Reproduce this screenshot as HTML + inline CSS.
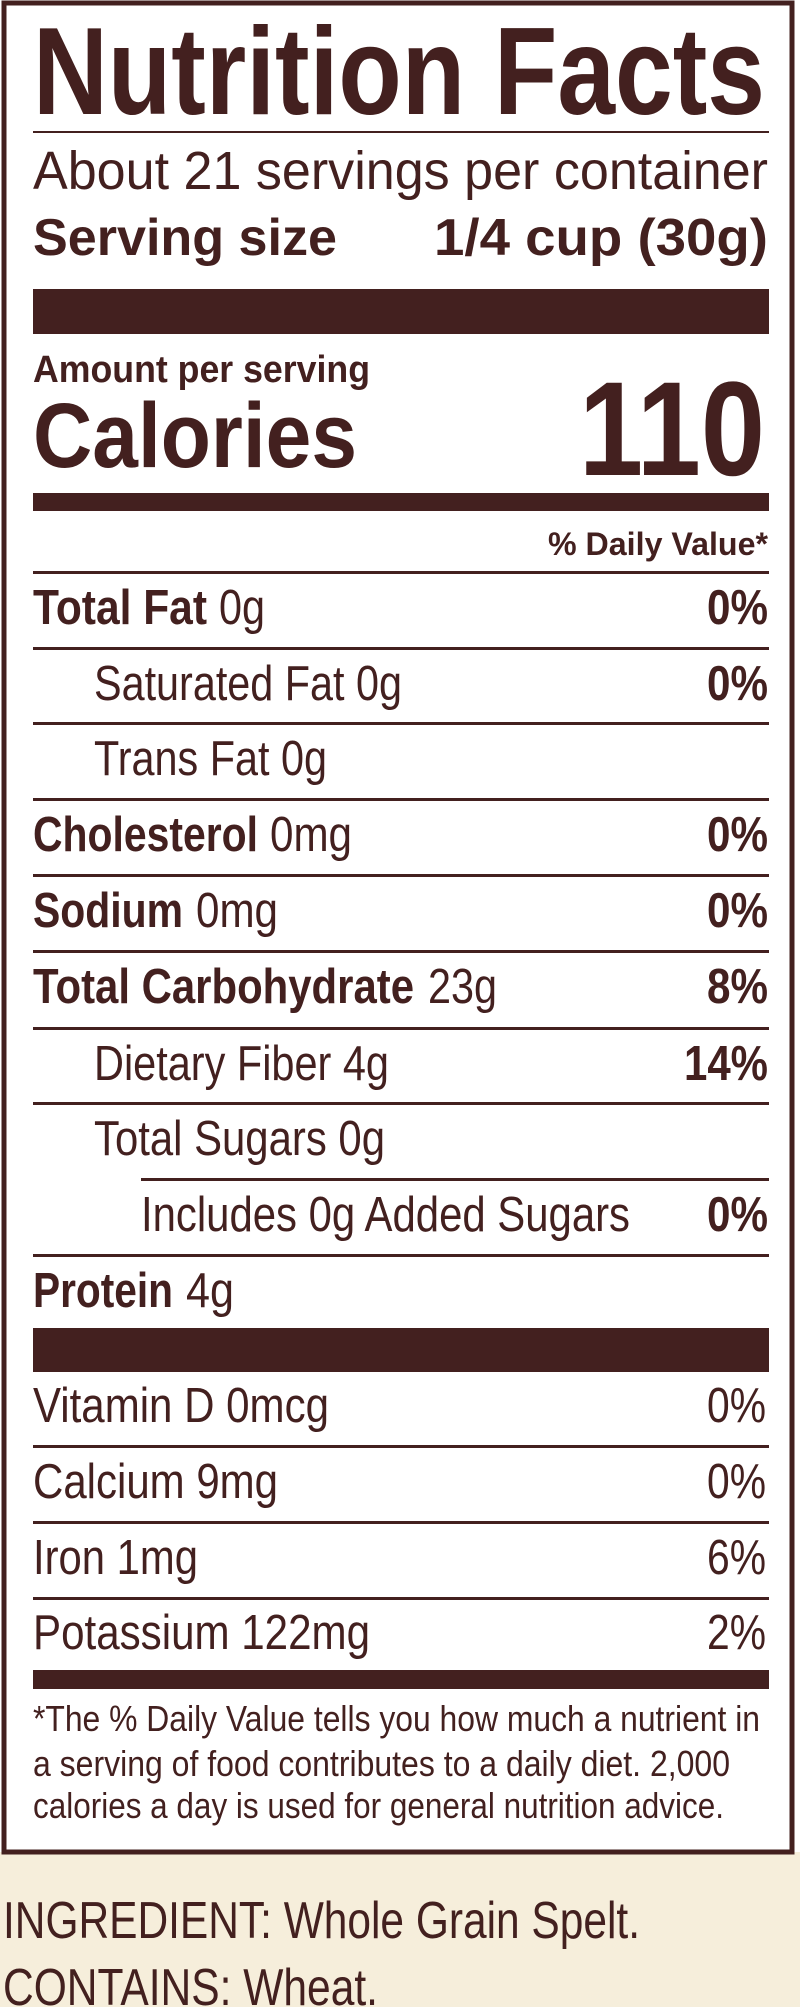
<!DOCTYPE html>
<html><head><meta charset="utf-8"><style>
html,body{margin:0;padding:0;background:#fff;}
svg{display:block}
text{font-family:"Liberation Sans",sans-serif;fill:#43201f;}
.b{font-weight:bold}
</style></head><body>
<svg width="800" height="2007" viewBox="0 0 800 2007" xmlns="http://www.w3.org/2000/svg">
<rect x="0" y="1852" width="800" height="155" fill="#f6eedb"/>
<rect x="4" y="3" width="788" height="1849" fill="#fff" stroke="#43201f" stroke-width="5"/>
<g fill="#43201f">
<rect x="33" y="131" width="736" height="2"/>
<rect x="33" y="289" width="736" height="45"/>
<rect x="33" y="493" width="736" height="18"/>
<rect x="33" y="571" width="736" height="3"/>
<rect x="33" y="647" width="736" height="3"/>
<rect x="33" y="722" width="736" height="3"/>
<rect x="33" y="798" width="736" height="3"/>
<rect x="33" y="874" width="736" height="3"/>
<rect x="33" y="950" width="736" height="3"/>
<rect x="33" y="1027" width="736" height="3"/>
<rect x="33" y="1102" width="736" height="3"/>
<rect x="141" y="1178" width="628" height="3"/>
<rect x="33" y="1254" width="736" height="3"/>
<rect x="33" y="1328" width="736" height="44"/>
<rect x="33" y="1445" width="736" height="3"/>
<rect x="33" y="1521" width="736" height="3"/>
<rect x="33" y="1597" width="736" height="3"/>
<rect x="33" y="1670" width="736" height="19"/>
</g>
<text class="b" x="33" y="114" font-size="124" textLength="732" lengthAdjust="spacingAndGlyphs">Nutrition Facts</text>
<text x="33" y="189" font-size="54" textLength="735" lengthAdjust="spacingAndGlyphs">About 21 servings per container</text>
<text class="b" x="33" y="255" font-size="52" textLength="304" lengthAdjust="spacingAndGlyphs">Serving size</text>
<text class="b" x="434" y="255" font-size="52" textLength="334" lengthAdjust="spacingAndGlyphs">1/4 cup (30g)</text>
<text class="b" x="33" y="382" font-size="38" textLength="337" lengthAdjust="spacingAndGlyphs">Amount per serving</text>
<text class="b" x="33" y="467" font-size="92" textLength="324" lengthAdjust="spacingAndGlyphs">Calories</text>
<text class="b" x="579" y="475" font-size="134" textLength="186" lengthAdjust="spacingAndGlyphs">110</text>
<text class="b" x="548" y="555" font-size="32" textLength="220" lengthAdjust="spacingAndGlyphs">% Daily Value*</text>

<text class="b" x="33" y="624" font-size="49" textLength="174" lengthAdjust="spacingAndGlyphs">Total Fat</text>
<text x="219" y="624" font-size="49" textLength="46" lengthAdjust="spacingAndGlyphs">0g</text>
<text class="b" x="707" y="624" font-size="49" textLength="61" lengthAdjust="spacingAndGlyphs">0%</text>

<text x="94" y="700" font-size="49" textLength="308" lengthAdjust="spacingAndGlyphs">Saturated Fat 0g</text>
<text class="b" x="707" y="700" font-size="49" textLength="61" lengthAdjust="spacingAndGlyphs">0%</text>

<text x="94" y="775" font-size="49" textLength="233" lengthAdjust="spacingAndGlyphs">Trans Fat 0g</text>

<text class="b" x="33" y="851" font-size="49" textLength="225" lengthAdjust="spacingAndGlyphs">Cholesterol</text>
<text x="270" y="851" font-size="49" textLength="82" lengthAdjust="spacingAndGlyphs">0mg</text>
<text class="b" x="707" y="851" font-size="49" textLength="61" lengthAdjust="spacingAndGlyphs">0%</text>

<text class="b" x="33" y="927" font-size="49" textLength="150" lengthAdjust="spacingAndGlyphs">Sodium</text>
<text x="196" y="927" font-size="49" textLength="82" lengthAdjust="spacingAndGlyphs">0mg</text>
<text class="b" x="707" y="927" font-size="49" textLength="61" lengthAdjust="spacingAndGlyphs">0%</text>

<text class="b" x="33" y="1003" font-size="49" textLength="381" lengthAdjust="spacingAndGlyphs">Total Carbohydrate</text>
<text x="428" y="1003" font-size="49" textLength="69" lengthAdjust="spacingAndGlyphs">23g</text>
<text class="b" x="707" y="1003" font-size="49" textLength="61" lengthAdjust="spacingAndGlyphs">8%</text>

<text x="94" y="1080" font-size="49" textLength="295" lengthAdjust="spacingAndGlyphs">Dietary Fiber 4g</text>
<text class="b" x="684" y="1080" font-size="49" textLength="84" lengthAdjust="spacingAndGlyphs">14%</text>

<text x="94" y="1155" font-size="49" textLength="291" lengthAdjust="spacingAndGlyphs">Total Sugars 0g</text>

<text x="141" y="1231" font-size="49" textLength="489" lengthAdjust="spacingAndGlyphs">Includes 0g Added Sugars</text>
<text class="b" x="707" y="1231" font-size="49" textLength="61" lengthAdjust="spacingAndGlyphs">0%</text>

<text class="b" x="33" y="1307" font-size="49" textLength="140" lengthAdjust="spacingAndGlyphs">Protein</text>
<text x="186" y="1307" font-size="49" textLength="48" lengthAdjust="spacingAndGlyphs">4g</text>

<text x="33" y="1422" font-size="49" textLength="296" lengthAdjust="spacingAndGlyphs">Vitamin D 0mcg</text>
<text x="707" y="1422" font-size="49" textLength="59" lengthAdjust="spacingAndGlyphs">0%</text>
<text x="33" y="1498" font-size="49" textLength="245" lengthAdjust="spacingAndGlyphs">Calcium 9mg</text>
<text x="707" y="1498" font-size="49" textLength="59" lengthAdjust="spacingAndGlyphs">0%</text>
<text x="33" y="1574" font-size="49" textLength="165" lengthAdjust="spacingAndGlyphs">Iron 1mg</text>
<text x="707" y="1574" font-size="49" textLength="59" lengthAdjust="spacingAndGlyphs">6%</text>
<text x="33" y="1649" font-size="49" textLength="337" lengthAdjust="spacingAndGlyphs">Potassium 122mg</text>
<text x="707" y="1649" font-size="49" textLength="59" lengthAdjust="spacingAndGlyphs">2%</text>

<text x="33" y="1731" font-size="36" textLength="727" lengthAdjust="spacingAndGlyphs">*The % Daily Value tells you how much a nutrient in</text>
<text x="33" y="1776" font-size="36" textLength="697" lengthAdjust="spacingAndGlyphs">a serving of food contributes to a daily diet. 2,000</text>
<text x="33" y="1818" font-size="36" textLength="691" lengthAdjust="spacingAndGlyphs">calories a day is used for general nutrition advice.</text>

<text x="3" y="1938" font-size="52" textLength="637" lengthAdjust="spacingAndGlyphs">INGREDIENT: Whole Grain Spelt.</text>
<text x="3" y="2005" font-size="52" textLength="375" lengthAdjust="spacingAndGlyphs">CONTAINS: Wheat.</text>
</svg>
</body></html>
